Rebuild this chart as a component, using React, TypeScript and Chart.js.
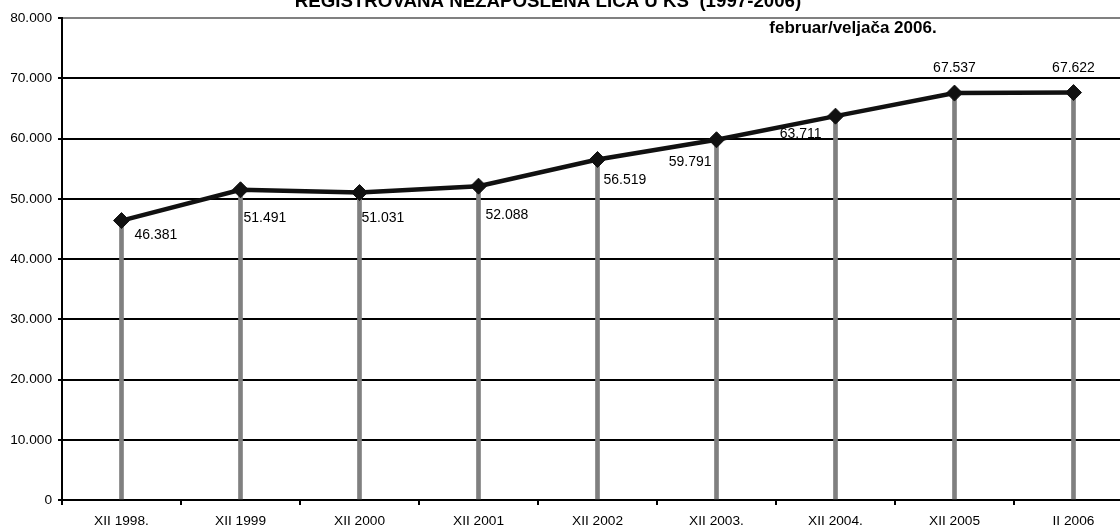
import React, { useEffect, useRef } from 'react';
import { Chart, registerables } from 'chart.js';

Chart.register(...registerables);

const categories = ['XII 1998.', 'XII 1999', 'XII 2000', 'XII 2001', 'XII 2002', 'XII 2003.', 'XII 2004.', 'XII 2005', 'II 2006'];
const unemployed = [46381, 51491, 51031, 52088, 56519, 59791, 63711, 67537, 67622];
const yMin = 0;
const yMax = 80000;
const yStep = 10000;
const titleText = 'REGISTROVANA NEZAPOSLENA LICA U KS  (1997-2006)';
const subtitleText = 'februar/veljača 2006.';

// label placement relative to each point (style only)
const labelAlign: CanvasTextAlign[] = ['left', 'left', 'left', 'left', 'left', 'right', 'right', 'center', 'center'];
const labelDx = [13, 3, 2, 7, 6, -5, -14, 0, 0];
const labelDy = [14.5, 28, 26, 29, 21, 22, 18, -24.5, -24.5];

const FONT = "'Liberation Sans', Arial, sans-serif";
const fmt = (v: number) => String(Math.round(v)).replace(/\B(?=(\d{3})+(?!\d))/g, '.');

const decorPlugin = {
  id: 'decor',
  afterDatasetsDraw(chart: any) {
    const ctx = chart.ctx;
    const meta = chart.getDatasetMeta(1);
    ctx.save();
    ctx.font = `14px ${FONT}`;
    ctx.fillStyle = '#000';
    ctx.textBaseline = 'middle';
    meta.data.forEach((pt: any, i: number) => {
      ctx.textAlign = labelAlign[i];
      ctx.fillText(fmt(unemployed[i]), pt.x + labelDx[i], pt.y + labelDy[i]);
    });
    ctx.restore();
  },
  afterDraw(chart: any) {
    const ctx = chart.ctx;
    ctx.save();
    ctx.fillStyle = '#000';
    ctx.textAlign = 'center';
    ctx.textBaseline = 'alphabetic';
    ctx.font = `bold 18.7px ${FONT}`;
    ctx.fillText(titleText, 548, 7);
    ctx.font = `bold 17px ${FONT}`;
    ctx.fillText(subtitleText, 853, 32.5);
    ctx.restore();
  },
};

export default function App() {
  const ref = useRef<HTMLCanvasElement | null>(null);

  useEffect(() => {
    if (!ref.current) return;
    const chart = new Chart(ref.current, {
      type: 'bar',
      data: {
        labels: categories,
        datasets: [
          {
            type: 'bar',
            data: unemployed,
            backgroundColor: '#808080',
            borderWidth: 0,
            barThickness: 4,
            order: 1,
          } as any,
          {
            type: 'line',
            data: unemployed,
            borderColor: '#111',
            borderWidth: 4.5,
            backgroundColor: '#111',
            pointStyle: 'rectRot',
            pointRadius: 8,
            pointBorderWidth: 1,
            pointBorderColor: '#111',
            pointBackgroundColor: '#111',
            tension: 0,
            order: 0,
            clip: false,
          } as any,
        ],
      },
      options: {
        responsive: false,
        animation: false,
        events: [],
        layout: { padding: { top: 18, right: 0, bottom: 0, left: 0 } },
        plugins: {
          legend: { display: false },
          tooltip: { enabled: false },
          title: { display: false },
        },
        scales: {
          x: {
            offset: true,
            grid: {
              display: true,
              drawOnChartArea: false,
              drawTicks: true,
              tickLength: 5,
              offset: true,
              color: '#000',
              lineWidth: 2,
            },
            border: { display: true, color: '#000', width: 2 },
            ticks: {
              color: '#000',
              font: { family: FONT, size: 13.7 },
              padding: 8,
              maxRotation: 0,
              autoSkip: false,
            },
            afterFit: (s: any) => { s.height = 26; },
          },
          y: {
            min: yMin,
            max: yMax,
            grid: {
              color: (c: any) => (c.tick && c.tick.value === yMax ? '#808080' : '#000'),
              tickColor: '#000',
              lineWidth: 2,
              drawTicks: true,
              tickLength: 4,
            },
            border: { display: true, color: '#000', width: 2 },
            ticks: {
              stepSize: yStep,
              color: '#000',
              font: { family: FONT, size: 13.7 },
              padding: 6,
              callback: (v: any) => fmt(Number(v)),
            },
            afterFit: (s: any) => { s.width = 62; },
          },
        },
      },
      plugins: [decorPlugin],
    } as any);
    return () => chart.destroy();
  }, []);

  return (
    <div style={{ position: 'fixed', left: 0, top: 0, width: 1120, height: 526, overflow: 'hidden', background: '#fff' }}>
      <canvas ref={ref} width={1142} height={526} style={{ display: 'block' }} />
    </div>
  );
}
